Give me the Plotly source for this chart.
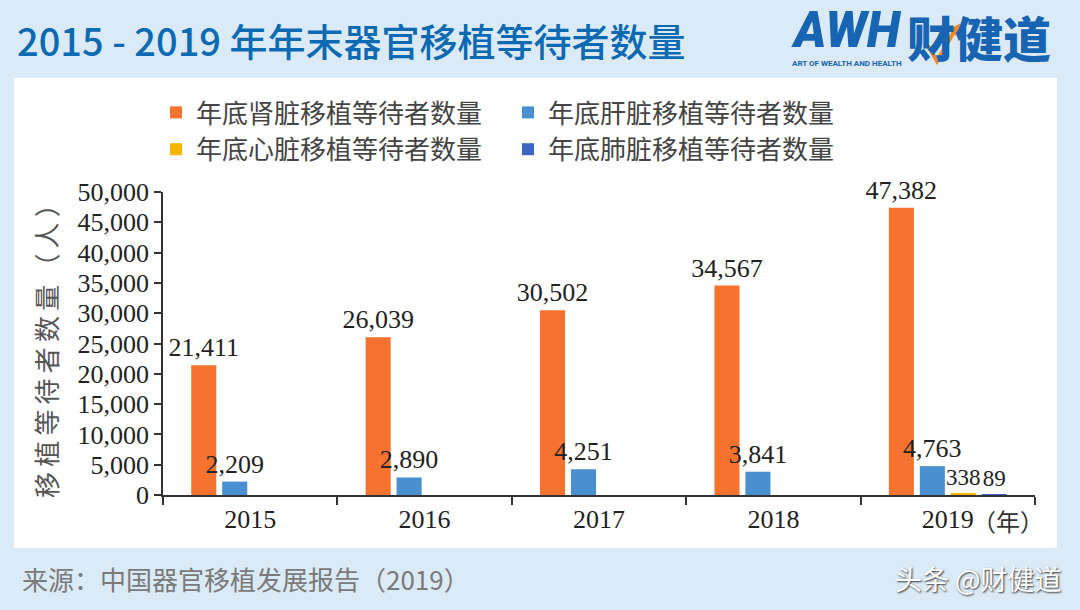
import plotly.graph_objects as go

# ---------------- data ----------------
years = ["2015", "2016", "2017", "2018", "2019"]
kidney = [21411, 26039, 30502, 34567, 47382]
liver = [2209, 2890, 4251, 3841, 4763]
heart = [None, None, None, None, 338]
lung = [None, None, None, None, 89]

series_names = ["年底肾脏移植等待者数量", "年底肝脏移植等待者数量",
                "年底心脏移植等待者数量", "年底肺脏移植等待者数量"]
series_colors = ["#F5722F", "#4A90D0", "#F7B500", "#3C66C4"]
label_sizes = [26, 26, 23, 23]
y_ticks = [0, 5000, 10000, 15000, 20000, 25000, 30000, 35000, 40000, 45000, 50000]

title_text = "2015 - 2019 年年末器官移植等待者数量"
source_text = "来源：中国器官移植发展报告（2019）"
y_title = "移植等待者数量（人）"

# ---------------- layout geometry ----------------
WIDTH, HEIGHT = 1080, 610
L, R, T, B = 163, 1035, 192, 495
PW, PH = R - L, B - T


def px_x(px):
    return (px - L) / PW


def px_y(py):
    return (B - py) / PH


serif = "Liberation Serif, Times New Roman, serif"
cjk = "Noto Sans CJK SC, sans-serif"

fig = go.Figure()
for name, vals, col, ls in zip(series_names, [kidney, liver, heart, lung],
                               series_colors, label_sizes):
    fig.add_trace(go.Bar(
        x=years, y=vals, name=name, marker_color=col, marker_line_width=0,
        texttemplate="%{y:,}", textposition="outside", constraintext="none",
        textfont=dict(family=serif, size=ls, color="#222222"),
        cliponaxis=False,
    ))

annotations = [
    dict(text=title_text, x=px_x(15), y=px_y(40), xref="paper", yref="paper",
         xanchor="left", yanchor="middle", showarrow=False,
         font=dict(family=cjk, size=38, color="#0C6AB2", weight=500)),
    dict(text="AWH", x=px_x(789), y=px_y(30), xref="paper", yref="paper",
         xanchor="left", yanchor="middle", showarrow=False,
         font=dict(family="Roboto, sans-serif", size=49, color="#1664B2",
                   weight=900, style="italic")),
    dict(text="财健道", x=px_x(905), y=px_y(36), xref="paper", yref="paper",
         xanchor="left", yanchor="middle", showarrow=False,
         font=dict(family=cjk, size=48, color="#1664B2", weight=900)),
    dict(text="ART OF WEALTH AND HEALTH", x=px_x(790), y=px_y(63), xref="paper", yref="paper",
         xanchor="left", yanchor="middle", showarrow=False,
         font=dict(family="Roboto, sans-serif", size=8, color="#1664B2", weight=700)),
    dict(text=source_text, x=px_x(20), y=px_y(578), xref="paper", yref="paper",
         xanchor="left", yanchor="middle", showarrow=False,
         font=dict(family=cjk, size=26, color="#7A7A7A")),
    dict(text="头条 @财健道", x=px_x(1064), y=px_y(578), xref="paper", yref="paper",
         xanchor="right", yanchor="middle", showarrow=False,
         font=dict(family=cjk, size=27, color="#FFFFFF",
                   shadow="1px 1px 2px #333333")),
    dict(text="\u2009".join(y_title), x=px_x(45), y=px_y(345), xref="paper", yref="paper",
         xanchor="center", yanchor="middle", showarrow=False, textangle=-90,
         font=dict(family=cjk, size=26, color="#555555")),
    dict(text="（年）", x=px_x(1008), y=px_y(520), xref="paper", yref="paper",
         xanchor="center", yanchor="middle", showarrow=False,
         font=dict(family=cjk, size=24, color="#333333")),
]

# checkmark in logo
cx = [928, 937, 955]
cy = [46, 61, 30]
check_path = "M {} {} L {} {} L {} {}".format(
    px_x(cx[0]), px_y(cy[0]), px_x(cx[1]), px_y(cy[1]), px_x(cx[2]), px_y(cy[2]))
arrow_path = "M {} {} L {} {} L {} {} Z".format(
    px_x(948), px_y(30), px_x(960), px_y(24), px_x(959), px_y(37))

shapes = [
    dict(type="rect", xref="paper", yref="paper",
         x0=px_x(14), x1=px_x(1057), y0=px_y(548), y1=px_y(78),
         fillcolor="#FFFFFF", line=dict(width=0), layer="below"),
    dict(type="path", xref="paper", yref="paper", path=check_path,
         line=dict(color="#F08A1C", width=4)),
    dict(type="path", xref="paper", yref="paper", path=arrow_path,
         fillcolor="#F08A1C", line=dict(color="#F08A1C", width=1)),
]

fig.update_layout(
    width=WIDTH, height=HEIGHT,
    margin=dict(l=L, r=WIDTH - R, t=T, b=HEIGHT - B, pad=0),
    paper_bgcolor="#DAEAF7", plot_bgcolor="#FFFFFF",
    barmode="group", bargap=0.29, bargroupgap=0.19,
    showlegend=True,
    legend=dict(orientation="h", x=px_x(156), y=px_y(89), xanchor="left", yanchor="top",
                xref="paper", yref="paper",
                entrywidth=307, entrywidthmode="pixels",
                font=dict(family=cjk, size=26, color="#444444"),
                bgcolor="rgba(0,0,0,0)", traceorder="normal"),
    xaxis=dict(type="category", showline=True, linecolor="#333333", linewidth=1.5,
               ticks="outside", tickson="boundaries", ticklen=8, tickcolor="#333333",
               tickwidth=1.5, showgrid=False, zeroline=False,
               tickfont=dict(family=serif, size=26, color="#222222")),
    yaxis=dict(range=[0, 50000], tickvals=y_ticks, tickformat=",d",
               showline=True, linecolor="#333333", linewidth=1.5,
               ticks="outside", ticklen=7, tickcolor="#333333", tickwidth=1.5,
               showgrid=False, zeroline=False,
               tickfont=dict(family=serif, size=26, color="#222222")),
    annotations=annotations,
    shapes=shapes,
)

fig.write_html("out.html",
               config={"displayModeBar": False},
               post_script="document.body.style.margin='0px';"
                           "document.body.style.background='#DAEAF7';")
